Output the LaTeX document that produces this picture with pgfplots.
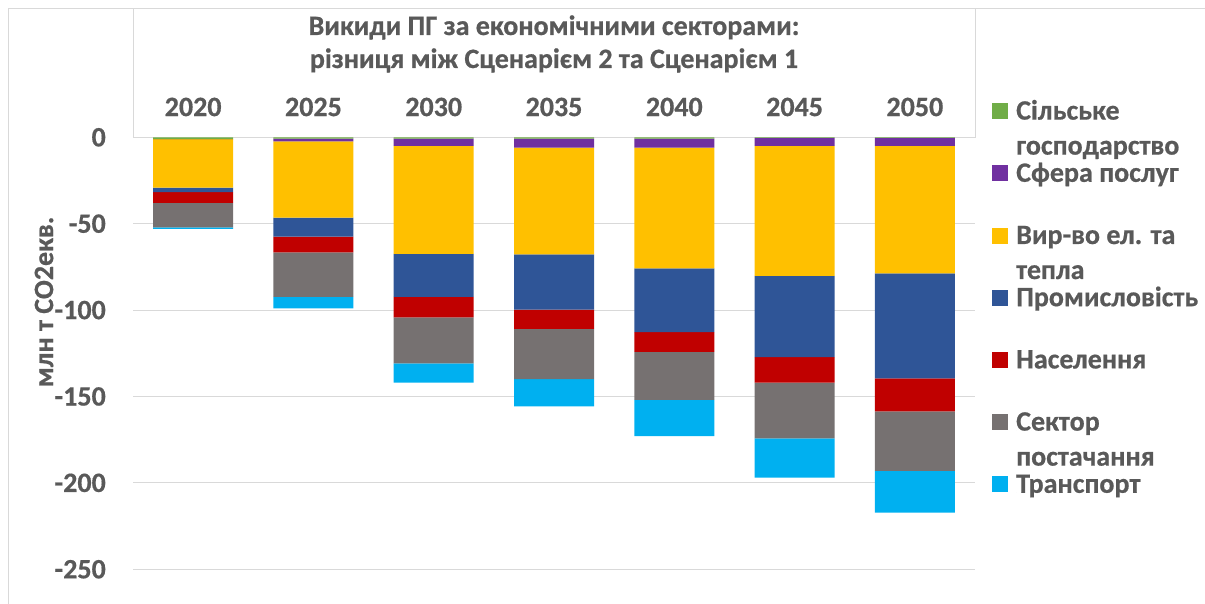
\documentclass[border=0pt]{standalone}
\usepackage{pgfplots}
\pgfplotsset{compat=1.18}
\usepackage{fontspec}
\setmainfont{Carlito}[BoldFeatures={FakeBold=0.6}]
\definecolor{cgreen}{HTML}{70AD47}
\definecolor{cpurple}{HTML}{7030A0}
\definecolor{cyellow}{HTML}{FFC000}
\definecolor{cblue}{HTML}{2F5597}
\definecolor{cred}{HTML}{C00000}
\definecolor{cgray}{HTML}{767171}
\definecolor{ccyan}{HTML}{00B0F0}
\definecolor{txt}{HTML}{595959}
\definecolor{gridc}{HTML}{D9D9D9}
\newcommand\bigfont{\fontsize{28bp}{34bp}\selectfont\bfseries}
\begin{document}
\begin{tikzpicture}[x=1bp,y=1bp]
\path[use as bounding box] (0,0) rectangle (1205,604);
\draw[gridc, line width=1bp] (8,0) -- (8,595) -- (1205,595);
\draw[gridc, fill=white, line width=1bp] (133,466.7) rectangle (975,595);
\begin{axis}[
  at={(133bp,0bp)}, anchor=south west,
  scale only axis, width=842bp, height=595bp,
  xmin=-0.5, xmax=6.5, ymin=-270.1, ymax=74.25,
  ybar stacked, bar width=0.665,
  clip=false,
  xtick={0,1,2,3,4,5,6},
  xticklabels={2020,2025,2030,2035,2040,2045,2050},
  xticklabel pos=upper,
  xticklabel style={anchor=center, inner sep=0pt, yshift=-98bp},
  ytick={-250,-200,-150,-100,-50,0},
  yticklabels={-250,-200,-150,-100,-50,0},
  yticklabel style={anchor=east, inner sep=0pt, xshift=-27bp},
  every tick label/.append style={font=\bigfont, text=txt},
  ymajorgrids, grid style={gridc, line width=1bp},
  axis line style={draw=none}, major tick length=0pt,
  ylabel={млн т CO2екв.},
  every axis y label/.style={at={(rel axis cs:-0.1057,0.5076)}, rotate=90, anchor=center, font=\bigfont, text=txt},
]
\addplot[fill=cgreen, draw=none] coordinates {(0,-1.0) (1,-0.8) (2,-0.8) (3,-0.8) (4,-0.8) (5,-0.3) (6,-0.3)};
\addplot[fill=cpurple, draw=none] coordinates {(0,-0.1) (1,-1.5) (2,-4.2) (3,-5.2) (4,-5.2) (5,-4.7) (6,-4.7)};
\addplot[fill=cyellow, draw=none] coordinates {(0,-28.0) (1,-44.2) (2,-62.5) (3,-61.7) (4,-69.8) (5,-75.2) (6,-73.7)};
\addplot[fill=cblue, draw=none] coordinates {(0,-2.7) (1,-11.0) (2,-24.9) (3,-32.0) (4,-36.9) (5,-47.1) (6,-60.8)};
\addplot[fill=cred, draw=none] coordinates {(0,-6.2) (1,-9.1) (2,-11.8) (3,-11.2) (4,-11.5) (5,-14.7) (6,-19.1)};
\addplot[fill=cgray, draw=none] coordinates {(0,-14.1) (1,-25.8) (2,-26.6) (3,-29.1) (4,-27.8) (5,-32.2) (6,-34.5)};
\addplot[fill=ccyan, draw=none] coordinates {(0,-0.9) (1,-6.6) (2,-11.2) (3,-15.7) (4,-21.0) (5,-22.8) (6,-24.1)};
\end{axis}
\begin{scope}[every node/.style={font=\bigfont, text=txt, inner sep=0pt}]
\node[anchor=base] at (554,569) {Викиди ПГ за економічними секторами:};
\node[anchor=base] at (554,536) {різниця між Сценарієм 2 та Сценарієм 1};
% legend
\fill[cgreen]  (992,{604-111.3-8}) rectangle ++(16,16);
\node[anchor=base west] at (1016,{604-119.6}) {Сільське};
\node[anchor=base west] at (1016,{604-154.6}) {господарство};
\fill[cpurple] (992,{604-173.5-8}) rectangle ++(16,16);
\node[anchor=base west] at (1016,{604-181.8}) {Сфера послуг};
\fill[cyellow] (992,{604-235.7-8}) rectangle ++(16,16);
\node[anchor=base west] at (1016,{604-244}) {Вир-во ел. та};
\node[anchor=base west] at (1016,{604-279}) {тепла};
\fill[cblue]   (992,{604-297.9-8}) rectangle ++(16,16);
\node[anchor=base west] at (1016,{604-306.2}) {Промисловість};
\fill[cred]    (992,{604-360.1-8}) rectangle ++(16,16);
\node[anchor=base west] at (1016,{604-368.4}) {Населення};
\fill[cgray]   (992,{604-422.3-8}) rectangle ++(16,16);
\node[anchor=base west] at (1016,{604-430.6}) {Сектор};
\node[anchor=base west] at (1016,{604-465.6}) {постачання};
\fill[ccyan]   (992,{604-484.5-8}) rectangle ++(16,16);
\node[anchor=base west] at (1016,{604-492.8}) {Транспорт};
\end{scope}
\end{tikzpicture}
\end{document}
